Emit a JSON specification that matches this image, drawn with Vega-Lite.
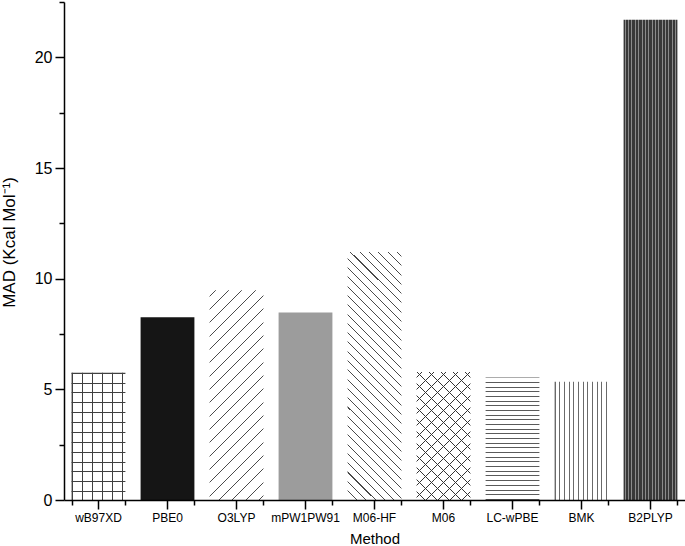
{
  "$schema": "https://vega.github.io/schema/vega-lite/v6.json",
  "width": 621,
  "height": 498,
  "autosize": "none",
  "padding": {"left": 64, "top": 2, "right": 0, "bottom": 46},
  "data": {"values": [
    {"Method": "wB97XD", "MAD": 5.75},
    {"Method": "PBE0", "MAD": 8.26},
    {"Method": "O3LYP", "MAD": 9.48},
    {"Method": "mPW1PW91", "MAD": 8.47},
    {"Method": "M06-HF", "MAD": 11.21},
    {"Method": "M06", "MAD": 5.78},
    {"Method": "LC-wPBE", "MAD": 5.54},
    {"Method": "BMK", "MAD": 5.34},
    {"Method": "B2PLYP", "MAD": 21.7}
  ]},
  "encoding": {
    "x": {"field": "Method", "type": "nominal", "sort": null, "scale": {"paddingInner": 0.22, "paddingOuter": 0.11}, "axis": null},
    "y": {"field": "MAD", "type": "quantitative", "scale": {"domain": [0, 22.5], "nice": false, "zero": true}, "axis": null}
  },
  "layer": [
    {
      "mark": {"type": "bar", "fillOpacity": 0},
      "encoding": {
        "x": {"field": "Method", "type": "nominal", "sort": null, "scale": {"paddingInner": 0.22, "paddingOuter": 0.11},
          "axis": {"title": "Method", "orient": "bottom", "labelAngle": 0, "labelFontSize": 12, "titleFontSize": 15, "tickSize": 9, "labelPadding": 3, "titlePadding": 8, "domainWidth": 1.5, "tickWidth": 1.5, "zindex": 2}},
        "y": {"field": "MAD", "type": "quantitative", "scale": {"domain": [0, 22.5], "nice": false, "zero": true},
          "axis": {"title": "MAD (Kcal Mol⁻¹)", "orient": "left", "values": [0, 5, 10, 15, 20], "labelFontSize": 16, "titleFontSize": 17, "titleY": 240, "tickSize": 9, "labelPadding": 3, "titlePadding": 16, "domainWidth": 1.5, "tickWidth": 1.5, "zindex": 2}}
      }
    },
    {
      "mark": {"type": "bar", "fillOpacity": 0},
      "encoding": {
        "x": {"field": "Method", "type": "nominal", "sort": null, "scale": {"paddingInner": 0.22, "paddingOuter": 0.11},
          "axis": {"title": null, "orient": "bottom", "tickBand": "extent", "labels": false, "domain": false, "tickSize": 5, "tickWidth": 1.5, "zindex": 2}},
        "y": {"field": "MAD", "type": "quantitative", "scale": {"domain": [0, 22.5], "nice": false, "zero": true},
          "axis": {"title": null, "orient": "left", "values": [2.5, 7.5, 12.5, 17.5, 22.5], "labels": false, "domain": false, "tickSize": 5, "tickWidth": 1.5, "zindex": 2}}
      }
    },
    {
      "transform": [{"filter": "datum.Method === 'wB97XD'"}],
      "mark": {"type": "bar", "fill": {"gradient": "linear", "x1": 0, "y1": 0, "x2": 0, "y2": 1, "stops": [
        {"offset": 0, "color": "#404040"}, {"offset": 0.0078, "color": "#404040"}, {"offset": 0.0078, "color": "#fff"},
        {"offset": 0.0775, "color": "#fff"}, {"offset": 0.0775, "color": "#404040"}, {"offset": 0.0853, "color": "#404040"}, {"offset": 0.0853, "color": "#fff"},
        {"offset": 0.1551, "color": "#fff"}, {"offset": 0.1551, "color": "#404040"}, {"offset": 0.1629, "color": "#404040"}, {"offset": 0.1629, "color": "#fff"},
        {"offset": 0.2326, "color": "#fff"}, {"offset": 0.2326, "color": "#404040"}, {"offset": 0.2404, "color": "#404040"}, {"offset": 0.2404, "color": "#fff"},
        {"offset": 0.3101, "color": "#fff"}, {"offset": 0.3101, "color": "#404040"}, {"offset": 0.3179, "color": "#404040"}, {"offset": 0.3179, "color": "#fff"},
        {"offset": 0.3876, "color": "#fff"}, {"offset": 0.3876, "color": "#404040"}, {"offset": 0.3954, "color": "#404040"}, {"offset": 0.3954, "color": "#fff"},
        {"offset": 0.4652, "color": "#fff"}, {"offset": 0.4652, "color": "#404040"}, {"offset": 0.473, "color": "#404040"}, {"offset": 0.473, "color": "#fff"},
        {"offset": 0.5427, "color": "#fff"}, {"offset": 0.5427, "color": "#404040"}, {"offset": 0.5505, "color": "#404040"}, {"offset": 0.5505, "color": "#fff"},
        {"offset": 0.6202, "color": "#fff"}, {"offset": 0.6202, "color": "#404040"}, {"offset": 0.628, "color": "#404040"}, {"offset": 0.628, "color": "#fff"},
        {"offset": 0.6977, "color": "#fff"}, {"offset": 0.6977, "color": "#404040"}, {"offset": 0.7055, "color": "#404040"}, {"offset": 0.7055, "color": "#fff"},
        {"offset": 0.7753, "color": "#fff"}, {"offset": 0.7753, "color": "#404040"}, {"offset": 0.7831, "color": "#404040"}, {"offset": 0.7831, "color": "#fff"},
        {"offset": 0.8528, "color": "#fff"}, {"offset": 0.8528, "color": "#404040"}, {"offset": 0.8606, "color": "#404040"}, {"offset": 0.8606, "color": "#fff"},
        {"offset": 0.9303, "color": "#fff"}, {"offset": 0.9303, "color": "#404040"}, {"offset": 0.9381, "color": "#404040"}, {"offset": 0.9381, "color": "#fff"},
        {"offset": 1, "color": "#fff"}
      ]}}
    },
    {
      "transform": [{"filter": "datum.Method === 'wB97XD'"}],
      "mark": {"type": "bar", "fill": {"gradient": "linear", "x1": 0, "y1": 0, "x2": 1, "y2": 0, "stops": [
        {"offset": 0, "color": "#404040"}, {"offset": 0.0186, "color": "#404040"}, {"offset": 0.0186, "color": "transparent"},
        {"offset": 0.1859, "color": "transparent"}, {"offset": 0.1859, "color": "#404040"}, {"offset": 0.2045, "color": "#404040"}, {"offset": 0.2045, "color": "transparent"},
        {"offset": 0.3717, "color": "transparent"}, {"offset": 0.3717, "color": "#404040"}, {"offset": 0.3903, "color": "#404040"}, {"offset": 0.3903, "color": "transparent"},
        {"offset": 0.5576, "color": "transparent"}, {"offset": 0.5576, "color": "#404040"}, {"offset": 0.5762, "color": "#404040"}, {"offset": 0.5762, "color": "transparent"},
        {"offset": 0.7435, "color": "transparent"}, {"offset": 0.7435, "color": "#404040"}, {"offset": 0.7621, "color": "#404040"}, {"offset": 0.7621, "color": "transparent"},
        {"offset": 0.9294, "color": "transparent"}, {"offset": 0.9294, "color": "#404040"}, {"offset": 0.948, "color": "#404040"}, {"offset": 0.948, "color": "transparent"},
        {"offset": 1, "color": "transparent"}
      ]}}
    },
    {
      "transform": [{"filter": "datum.Method === 'PBE0'"}],
      "mark": {"type": "bar", "fill": "#151515"}
    },
    {
      "transform": [{"filter": "datum.Method === 'O3LYP'"}],
      "mark": {"type": "bar", "fill": {"gradient": "linear", "x1": 0, "y1": 0, "x2": 0.303, "y2": 1.179, "stops": [
        {"offset": 0, "color": "#fff"},
        {"offset": 0.0209, "color": "#fff"}, {"offset": 0.0209, "color": "#4a4a4a"}, {"offset": 0.0247, "color": "#4a4a4a"}, {"offset": 0.0247, "color": "#fff"},
        {"offset": 0.0714, "color": "#fff"}, {"offset": 0.0714, "color": "#4a4a4a"}, {"offset": 0.0752, "color": "#4a4a4a"}, {"offset": 0.0752, "color": "#fff"},
        {"offset": 0.122, "color": "#fff"}, {"offset": 0.122, "color": "#4a4a4a"}, {"offset": 0.1258, "color": "#4a4a4a"}, {"offset": 0.1258, "color": "#fff"},
        {"offset": 0.1725, "color": "#fff"}, {"offset": 0.1725, "color": "#4a4a4a"}, {"offset": 0.1763, "color": "#4a4a4a"}, {"offset": 0.1763, "color": "#fff"},
        {"offset": 0.223, "color": "#fff"}, {"offset": 0.223, "color": "#4a4a4a"}, {"offset": 0.2268, "color": "#4a4a4a"}, {"offset": 0.2268, "color": "#fff"},
        {"offset": 0.2736, "color": "#fff"}, {"offset": 0.2736, "color": "#4a4a4a"}, {"offset": 0.2774, "color": "#4a4a4a"}, {"offset": 0.2774, "color": "#fff"},
        {"offset": 0.3241, "color": "#fff"}, {"offset": 0.3241, "color": "#4a4a4a"}, {"offset": 0.3279, "color": "#4a4a4a"}, {"offset": 0.3279, "color": "#fff"},
        {"offset": 0.3746, "color": "#fff"}, {"offset": 0.3746, "color": "#4a4a4a"}, {"offset": 0.3784, "color": "#4a4a4a"}, {"offset": 0.3784, "color": "#fff"},
        {"offset": 0.4251, "color": "#fff"}, {"offset": 0.4251, "color": "#4a4a4a"}, {"offset": 0.4289, "color": "#4a4a4a"}, {"offset": 0.4289, "color": "#fff"},
        {"offset": 0.4757, "color": "#fff"}, {"offset": 0.4757, "color": "#4a4a4a"}, {"offset": 0.4795, "color": "#4a4a4a"}, {"offset": 0.4795, "color": "#fff"},
        {"offset": 0.5262, "color": "#fff"}, {"offset": 0.5262, "color": "#4a4a4a"}, {"offset": 0.53, "color": "#4a4a4a"}, {"offset": 0.53, "color": "#fff"},
        {"offset": 0.5767, "color": "#fff"}, {"offset": 0.5767, "color": "#4a4a4a"}, {"offset": 0.5805, "color": "#4a4a4a"}, {"offset": 0.5805, "color": "#fff"},
        {"offset": 0.6273, "color": "#fff"}, {"offset": 0.6273, "color": "#4a4a4a"}, {"offset": 0.6311, "color": "#4a4a4a"}, {"offset": 0.6311, "color": "#fff"},
        {"offset": 0.6778, "color": "#fff"}, {"offset": 0.6778, "color": "#4a4a4a"}, {"offset": 0.6816, "color": "#4a4a4a"}, {"offset": 0.6816, "color": "#fff"},
        {"offset": 0.7283, "color": "#fff"}, {"offset": 0.7283, "color": "#4a4a4a"}, {"offset": 0.7321, "color": "#4a4a4a"}, {"offset": 0.7321, "color": "#fff"},
        {"offset": 0.7789, "color": "#fff"}, {"offset": 0.7789, "color": "#4a4a4a"}, {"offset": 0.7827, "color": "#4a4a4a"}, {"offset": 0.7827, "color": "#fff"},
        {"offset": 0.8294, "color": "#fff"}, {"offset": 0.8294, "color": "#4a4a4a"}, {"offset": 0.8332, "color": "#4a4a4a"}, {"offset": 0.8332, "color": "#fff"},
        {"offset": 0.8799, "color": "#fff"}, {"offset": 0.8799, "color": "#4a4a4a"}, {"offset": 0.8837, "color": "#4a4a4a"}, {"offset": 0.8837, "color": "#fff"},
        {"offset": 0.9304, "color": "#fff"}, {"offset": 0.9304, "color": "#4a4a4a"}, {"offset": 0.9342, "color": "#4a4a4a"}, {"offset": 0.9342, "color": "#fff"},
        {"offset": 0.981, "color": "#fff"}, {"offset": 0.981, "color": "#4a4a4a"}, {"offset": 0.9848, "color": "#4a4a4a"}, {"offset": 0.9848, "color": "#fff"},
        {"offset": 1, "color": "#fff"}
      ]}}
    },
    {
      "transform": [{"filter": "datum.Method === 'mPW1PW91'"}],
      "mark": {"type": "bar", "fill": "#9c9c9c"}
    },
    {
      "transform": [{"filter": "datum.Method === 'M06-HF'"}],
      "mark": {"type": "bar", "fill": {"gradient": "linear", "x1": 1, "y1": 0, "x2": 0.7482, "y2": 1.1621, "stops": [
        {"offset": 0, "color": "#fff"},
        {"offset": 0.0133, "color": "#fff"}, {"offset": 0.0133, "color": "#4a4a4a"}, {"offset": 0.0167, "color": "#4a4a4a"}, {"offset": 0.0167, "color": "#fff"},
        {"offset": 0.0441, "color": "#fff"}, {"offset": 0.0441, "color": "#4a4a4a"}, {"offset": 0.0475, "color": "#4a4a4a"}, {"offset": 0.0475, "color": "#fff"},
        {"offset": 0.0749, "color": "#fff"}, {"offset": 0.0749, "color": "#4a4a4a"}, {"offset": 0.0783, "color": "#4a4a4a"}, {"offset": 0.0783, "color": "#fff"},
        {"offset": 0.1056, "color": "#fff"}, {"offset": 0.1056, "color": "#4a4a4a"}, {"offset": 0.109, "color": "#4a4a4a"}, {"offset": 0.109, "color": "#fff"},
        {"offset": 0.1364, "color": "#fff"}, {"offset": 0.1364, "color": "#4a4a4a"}, {"offset": 0.1398, "color": "#4a4a4a"}, {"offset": 0.1398, "color": "#fff"},
        {"offset": 0.1672, "color": "#fff"}, {"offset": 0.1672, "color": "#4a4a4a"}, {"offset": 0.1706, "color": "#4a4a4a"}, {"offset": 0.1706, "color": "#fff"},
        {"offset": 0.198, "color": "#fff"}, {"offset": 0.198, "color": "#4a4a4a"}, {"offset": 0.2014, "color": "#4a4a4a"}, {"offset": 0.2014, "color": "#fff"},
        {"offset": 0.2288, "color": "#fff"}, {"offset": 0.2288, "color": "#4a4a4a"}, {"offset": 0.2322, "color": "#4a4a4a"}, {"offset": 0.2322, "color": "#fff"},
        {"offset": 0.2595, "color": "#fff"}, {"offset": 0.2595, "color": "#4a4a4a"}, {"offset": 0.2629, "color": "#4a4a4a"}, {"offset": 0.2629, "color": "#fff"},
        {"offset": 0.2903, "color": "#fff"}, {"offset": 0.2903, "color": "#4a4a4a"}, {"offset": 0.2937, "color": "#4a4a4a"}, {"offset": 0.2937, "color": "#fff"},
        {"offset": 0.3211, "color": "#fff"}, {"offset": 0.3211, "color": "#4a4a4a"}, {"offset": 0.3245, "color": "#4a4a4a"}, {"offset": 0.3245, "color": "#fff"},
        {"offset": 0.3519, "color": "#fff"}, {"offset": 0.3519, "color": "#4a4a4a"}, {"offset": 0.3553, "color": "#4a4a4a"}, {"offset": 0.3553, "color": "#fff"},
        {"offset": 0.3827, "color": "#fff"}, {"offset": 0.3827, "color": "#4a4a4a"}, {"offset": 0.3861, "color": "#4a4a4a"}, {"offset": 0.3861, "color": "#fff"},
        {"offset": 0.4134, "color": "#fff"}, {"offset": 0.4134, "color": "#4a4a4a"}, {"offset": 0.4168, "color": "#4a4a4a"}, {"offset": 0.4168, "color": "#fff"},
        {"offset": 0.4442, "color": "#fff"}, {"offset": 0.4442, "color": "#4a4a4a"}, {"offset": 0.4476, "color": "#4a4a4a"}, {"offset": 0.4476, "color": "#fff"},
        {"offset": 0.475, "color": "#fff"}, {"offset": 0.475, "color": "#4a4a4a"}, {"offset": 0.4784, "color": "#4a4a4a"}, {"offset": 0.4784, "color": "#fff"},
        {"offset": 0.5058, "color": "#fff"}, {"offset": 0.5058, "color": "#4a4a4a"}, {"offset": 0.5092, "color": "#4a4a4a"}, {"offset": 0.5092, "color": "#fff"},
        {"offset": 0.5366, "color": "#fff"}, {"offset": 0.5366, "color": "#4a4a4a"}, {"offset": 0.54, "color": "#4a4a4a"}, {"offset": 0.54, "color": "#fff"},
        {"offset": 0.5673, "color": "#fff"}, {"offset": 0.5673, "color": "#4a4a4a"}, {"offset": 0.5707, "color": "#4a4a4a"}, {"offset": 0.5707, "color": "#fff"},
        {"offset": 0.5981, "color": "#fff"}, {"offset": 0.5981, "color": "#4a4a4a"}, {"offset": 0.6015, "color": "#4a4a4a"}, {"offset": 0.6015, "color": "#fff"},
        {"offset": 0.6289, "color": "#fff"}, {"offset": 0.6289, "color": "#4a4a4a"}, {"offset": 0.6323, "color": "#4a4a4a"}, {"offset": 0.6323, "color": "#fff"},
        {"offset": 0.6597, "color": "#fff"}, {"offset": 0.6597, "color": "#4a4a4a"}, {"offset": 0.6631, "color": "#4a4a4a"}, {"offset": 0.6631, "color": "#fff"},
        {"offset": 0.6905, "color": "#fff"}, {"offset": 0.6905, "color": "#4a4a4a"}, {"offset": 0.6939, "color": "#4a4a4a"}, {"offset": 0.6939, "color": "#fff"},
        {"offset": 0.7212, "color": "#fff"}, {"offset": 0.7212, "color": "#4a4a4a"}, {"offset": 0.7246, "color": "#4a4a4a"}, {"offset": 0.7246, "color": "#fff"},
        {"offset": 0.752, "color": "#fff"}, {"offset": 0.752, "color": "#4a4a4a"}, {"offset": 0.7554, "color": "#4a4a4a"}, {"offset": 0.7554, "color": "#fff"},
        {"offset": 0.7828, "color": "#fff"}, {"offset": 0.7828, "color": "#4a4a4a"}, {"offset": 0.7862, "color": "#4a4a4a"}, {"offset": 0.7862, "color": "#fff"},
        {"offset": 0.8136, "color": "#fff"}, {"offset": 0.8136, "color": "#4a4a4a"}, {"offset": 0.817, "color": "#4a4a4a"}, {"offset": 0.817, "color": "#fff"},
        {"offset": 0.8444, "color": "#fff"}, {"offset": 0.8444, "color": "#4a4a4a"}, {"offset": 0.8478, "color": "#4a4a4a"}, {"offset": 0.8478, "color": "#fff"},
        {"offset": 0.8751, "color": "#fff"}, {"offset": 0.8751, "color": "#4a4a4a"}, {"offset": 0.8785, "color": "#4a4a4a"}, {"offset": 0.8785, "color": "#fff"},
        {"offset": 0.9059, "color": "#fff"}, {"offset": 0.9059, "color": "#4a4a4a"}, {"offset": 0.9093, "color": "#4a4a4a"}, {"offset": 0.9093, "color": "#fff"},
        {"offset": 0.9367, "color": "#fff"}, {"offset": 0.9367, "color": "#4a4a4a"}, {"offset": 0.9401, "color": "#4a4a4a"}, {"offset": 0.9401, "color": "#fff"},
        {"offset": 0.9675, "color": "#fff"}, {"offset": 0.9675, "color": "#4a4a4a"}, {"offset": 0.9709, "color": "#4a4a4a"}, {"offset": 0.9709, "color": "#fff"},
        {"offset": 1, "color": "#fff"}
      ]}}
    },
    {
      "transform": [{"filter": "datum.Method === 'M06'"}],
      "mark": {"type": "bar", "fill": {"gradient": "linear", "x1": 0, "y1": 0, "x2": 0.5086, "y2": 1.2071, "stops": [
        {"offset": 0, "color": "#fff"},
        {"offset": 0.0273, "color": "#fff"}, {"offset": 0.0273, "color": "#333"}, {"offset": 0.0328, "color": "#333"}, {"offset": 0.0328, "color": "#fff"},
        {"offset": 0.0934, "color": "#fff"}, {"offset": 0.0934, "color": "#333"}, {"offset": 0.0989, "color": "#333"}, {"offset": 0.0989, "color": "#fff"},
        {"offset": 0.1595, "color": "#fff"}, {"offset": 0.1595, "color": "#333"}, {"offset": 0.165, "color": "#333"}, {"offset": 0.165, "color": "#fff"},
        {"offset": 0.2257, "color": "#fff"}, {"offset": 0.2257, "color": "#333"}, {"offset": 0.2312, "color": "#333"}, {"offset": 0.2312, "color": "#fff"},
        {"offset": 0.2918, "color": "#fff"}, {"offset": 0.2918, "color": "#333"}, {"offset": 0.2973, "color": "#333"}, {"offset": 0.2973, "color": "#fff"},
        {"offset": 0.3579, "color": "#fff"}, {"offset": 0.3579, "color": "#333"}, {"offset": 0.3634, "color": "#333"}, {"offset": 0.3634, "color": "#fff"},
        {"offset": 0.424, "color": "#fff"}, {"offset": 0.424, "color": "#333"}, {"offset": 0.4295, "color": "#333"}, {"offset": 0.4295, "color": "#fff"},
        {"offset": 0.4901, "color": "#fff"}, {"offset": 0.4901, "color": "#333"}, {"offset": 0.4956, "color": "#333"}, {"offset": 0.4956, "color": "#fff"},
        {"offset": 0.5563, "color": "#fff"}, {"offset": 0.5563, "color": "#333"}, {"offset": 0.5618, "color": "#333"}, {"offset": 0.5618, "color": "#fff"},
        {"offset": 0.6224, "color": "#fff"}, {"offset": 0.6224, "color": "#333"}, {"offset": 0.6279, "color": "#333"}, {"offset": 0.6279, "color": "#fff"},
        {"offset": 0.6885, "color": "#fff"}, {"offset": 0.6885, "color": "#333"}, {"offset": 0.694, "color": "#333"}, {"offset": 0.694, "color": "#fff"},
        {"offset": 0.7546, "color": "#fff"}, {"offset": 0.7546, "color": "#333"}, {"offset": 0.7601, "color": "#333"}, {"offset": 0.7601, "color": "#fff"},
        {"offset": 0.8207, "color": "#fff"}, {"offset": 0.8207, "color": "#333"}, {"offset": 0.8262, "color": "#333"}, {"offset": 0.8262, "color": "#fff"},
        {"offset": 0.8869, "color": "#fff"}, {"offset": 0.8869, "color": "#333"}, {"offset": 0.8924, "color": "#333"}, {"offset": 0.8924, "color": "#fff"},
        {"offset": 0.953, "color": "#fff"}, {"offset": 0.953, "color": "#333"}, {"offset": 0.9585, "color": "#333"}, {"offset": 0.9585, "color": "#fff"},
        {"offset": 1, "color": "#fff"}
      ]}}
    },
    {
      "transform": [{"filter": "datum.Method === 'M06'"}],
      "mark": {"type": "bar", "fill": {"gradient": "linear", "x1": 1, "y1": 0, "x2": 0.4914, "y2": 1.2071, "stops": [
        {"offset": 0, "color": "transparent"},
        {"offset": 0.0273, "color": "transparent"}, {"offset": 0.0273, "color": "#333"}, {"offset": 0.0328, "color": "#333"}, {"offset": 0.0328, "color": "transparent"},
        {"offset": 0.0934, "color": "transparent"}, {"offset": 0.0934, "color": "#333"}, {"offset": 0.0989, "color": "#333"}, {"offset": 0.0989, "color": "transparent"},
        {"offset": 0.1595, "color": "transparent"}, {"offset": 0.1595, "color": "#333"}, {"offset": 0.165, "color": "#333"}, {"offset": 0.165, "color": "transparent"},
        {"offset": 0.2257, "color": "transparent"}, {"offset": 0.2257, "color": "#333"}, {"offset": 0.2312, "color": "#333"}, {"offset": 0.2312, "color": "transparent"},
        {"offset": 0.2918, "color": "transparent"}, {"offset": 0.2918, "color": "#333"}, {"offset": 0.2973, "color": "#333"}, {"offset": 0.2973, "color": "transparent"},
        {"offset": 0.3579, "color": "transparent"}, {"offset": 0.3579, "color": "#333"}, {"offset": 0.3634, "color": "#333"}, {"offset": 0.3634, "color": "transparent"},
        {"offset": 0.424, "color": "transparent"}, {"offset": 0.424, "color": "#333"}, {"offset": 0.4295, "color": "#333"}, {"offset": 0.4295, "color": "transparent"},
        {"offset": 0.4901, "color": "transparent"}, {"offset": 0.4901, "color": "#333"}, {"offset": 0.4956, "color": "#333"}, {"offset": 0.4956, "color": "transparent"},
        {"offset": 0.5563, "color": "transparent"}, {"offset": 0.5563, "color": "#333"}, {"offset": 0.5618, "color": "#333"}, {"offset": 0.5618, "color": "transparent"},
        {"offset": 0.6224, "color": "transparent"}, {"offset": 0.6224, "color": "#333"}, {"offset": 0.6279, "color": "#333"}, {"offset": 0.6279, "color": "transparent"},
        {"offset": 0.6885, "color": "transparent"}, {"offset": 0.6885, "color": "#333"}, {"offset": 0.694, "color": "#333"}, {"offset": 0.694, "color": "transparent"},
        {"offset": 0.7546, "color": "transparent"}, {"offset": 0.7546, "color": "#333"}, {"offset": 0.7601, "color": "#333"}, {"offset": 0.7601, "color": "transparent"},
        {"offset": 0.8207, "color": "transparent"}, {"offset": 0.8207, "color": "#333"}, {"offset": 0.8262, "color": "#333"}, {"offset": 0.8262, "color": "transparent"},
        {"offset": 0.8869, "color": "transparent"}, {"offset": 0.8869, "color": "#333"}, {"offset": 0.8924, "color": "#333"}, {"offset": 0.8924, "color": "transparent"},
        {"offset": 0.953, "color": "transparent"}, {"offset": 0.953, "color": "#333"}, {"offset": 0.9585, "color": "#333"}, {"offset": 0.9585, "color": "transparent"},
        {"offset": 1, "color": "transparent"}
      ]}}
    },
    {
      "transform": [{"filter": "datum.Method === 'LC-wPBE'"}],
      "mark": {"type": "bar", "fill": {"gradient": "linear", "x1": 0, "y1": 0, "x2": 0, "y2": 1, "stops": [
        {"offset": 0, "color": "#5a5a5a"}, {"offset": 0.0082, "color": "#5a5a5a"}, {"offset": 0.0082, "color": "#fff"},
        {"offset": 0.0381, "color": "#fff"}, {"offset": 0.0381, "color": "#5a5a5a"}, {"offset": 0.0463, "color": "#5a5a5a"}, {"offset": 0.0463, "color": "#fff"},
        {"offset": 0.0762, "color": "#fff"}, {"offset": 0.0762, "color": "#5a5a5a"}, {"offset": 0.0844, "color": "#5a5a5a"}, {"offset": 0.0844, "color": "#fff"},
        {"offset": 0.1143, "color": "#fff"}, {"offset": 0.1143, "color": "#5a5a5a"}, {"offset": 0.1225, "color": "#5a5a5a"}, {"offset": 0.1225, "color": "#fff"},
        {"offset": 0.1524, "color": "#fff"}, {"offset": 0.1524, "color": "#5a5a5a"}, {"offset": 0.1606, "color": "#5a5a5a"}, {"offset": 0.1606, "color": "#fff"},
        {"offset": 0.1905, "color": "#fff"}, {"offset": 0.1905, "color": "#5a5a5a"}, {"offset": 0.1987, "color": "#5a5a5a"}, {"offset": 0.1987, "color": "#fff"},
        {"offset": 0.2286, "color": "#fff"}, {"offset": 0.2286, "color": "#5a5a5a"}, {"offset": 0.2368, "color": "#5a5a5a"}, {"offset": 0.2368, "color": "#fff"},
        {"offset": 0.2667, "color": "#fff"}, {"offset": 0.2667, "color": "#5a5a5a"}, {"offset": 0.2749, "color": "#5a5a5a"}, {"offset": 0.2749, "color": "#fff"},
        {"offset": 0.3048, "color": "#fff"}, {"offset": 0.3048, "color": "#5a5a5a"}, {"offset": 0.313, "color": "#5a5a5a"}, {"offset": 0.313, "color": "#fff"},
        {"offset": 0.3429, "color": "#fff"}, {"offset": 0.3429, "color": "#5a5a5a"}, {"offset": 0.3511, "color": "#5a5a5a"}, {"offset": 0.3511, "color": "#fff"},
        {"offset": 0.381, "color": "#fff"}, {"offset": 0.381, "color": "#5a5a5a"}, {"offset": 0.3892, "color": "#5a5a5a"}, {"offset": 0.3892, "color": "#fff"},
        {"offset": 0.4191, "color": "#fff"}, {"offset": 0.4191, "color": "#5a5a5a"}, {"offset": 0.4273, "color": "#5a5a5a"}, {"offset": 0.4273, "color": "#fff"},
        {"offset": 0.4572, "color": "#fff"}, {"offset": 0.4572, "color": "#5a5a5a"}, {"offset": 0.4654, "color": "#5a5a5a"}, {"offset": 0.4654, "color": "#fff"},
        {"offset": 0.4953, "color": "#fff"}, {"offset": 0.4953, "color": "#5a5a5a"}, {"offset": 0.5035, "color": "#5a5a5a"}, {"offset": 0.5035, "color": "#fff"},
        {"offset": 0.5334, "color": "#fff"}, {"offset": 0.5334, "color": "#5a5a5a"}, {"offset": 0.5416, "color": "#5a5a5a"}, {"offset": 0.5416, "color": "#fff"},
        {"offset": 0.5715, "color": "#fff"}, {"offset": 0.5715, "color": "#5a5a5a"}, {"offset": 0.5797, "color": "#5a5a5a"}, {"offset": 0.5797, "color": "#fff"},
        {"offset": 0.6096, "color": "#fff"}, {"offset": 0.6096, "color": "#5a5a5a"}, {"offset": 0.6178, "color": "#5a5a5a"}, {"offset": 0.6178, "color": "#fff"},
        {"offset": 0.6477, "color": "#fff"}, {"offset": 0.6477, "color": "#5a5a5a"}, {"offset": 0.6559, "color": "#5a5a5a"}, {"offset": 0.6559, "color": "#fff"},
        {"offset": 0.6858, "color": "#fff"}, {"offset": 0.6858, "color": "#5a5a5a"}, {"offset": 0.694, "color": "#5a5a5a"}, {"offset": 0.694, "color": "#fff"},
        {"offset": 0.7239, "color": "#fff"}, {"offset": 0.7239, "color": "#5a5a5a"}, {"offset": 0.7321, "color": "#5a5a5a"}, {"offset": 0.7321, "color": "#fff"},
        {"offset": 0.762, "color": "#fff"}, {"offset": 0.762, "color": "#5a5a5a"}, {"offset": 0.7702, "color": "#5a5a5a"}, {"offset": 0.7702, "color": "#fff"},
        {"offset": 0.8001, "color": "#fff"}, {"offset": 0.8001, "color": "#5a5a5a"}, {"offset": 0.8083, "color": "#5a5a5a"}, {"offset": 0.8083, "color": "#fff"},
        {"offset": 0.8382, "color": "#fff"}, {"offset": 0.8382, "color": "#5a5a5a"}, {"offset": 0.8464, "color": "#5a5a5a"}, {"offset": 0.8464, "color": "#fff"},
        {"offset": 0.8763, "color": "#fff"}, {"offset": 0.8763, "color": "#5a5a5a"}, {"offset": 0.8845, "color": "#5a5a5a"}, {"offset": 0.8845, "color": "#fff"},
        {"offset": 0.9144, "color": "#fff"}, {"offset": 0.9144, "color": "#5a5a5a"}, {"offset": 0.9226, "color": "#5a5a5a"}, {"offset": 0.9226, "color": "#fff"},
        {"offset": 0.9525, "color": "#fff"}, {"offset": 0.9525, "color": "#5a5a5a"}, {"offset": 0.9607, "color": "#5a5a5a"}, {"offset": 0.9607, "color": "#fff"},
        {"offset": 0.9906, "color": "#fff"}, {"offset": 0.9906, "color": "#5a5a5a"}, {"offset": 0.9988, "color": "#5a5a5a"}, {"offset": 0.9988, "color": "#fff"},
        {"offset": 1, "color": "#fff"}
      ]}}
    },
    {
      "transform": [{"filter": "datum.Method === 'BMK'"}],
      "mark": {"type": "bar", "fill": {"gradient": "linear", "x1": 0, "y1": 0, "x2": 1, "y2": 0, "stops": [
        {"offset": 0, "color": "#6a6a6a"}, {"offset": 0.0186, "color": "#6a6a6a"}, {"offset": 0.0186, "color": "#fff"},
        {"offset": 0.0868, "color": "#fff"}, {"offset": 0.0868, "color": "#6a6a6a"}, {"offset": 0.1054, "color": "#6a6a6a"}, {"offset": 0.1054, "color": "#fff"},
        {"offset": 0.1736, "color": "#fff"}, {"offset": 0.1736, "color": "#6a6a6a"}, {"offset": 0.1922, "color": "#6a6a6a"}, {"offset": 0.1922, "color": "#fff"},
        {"offset": 0.2604, "color": "#fff"}, {"offset": 0.2604, "color": "#6a6a6a"}, {"offset": 0.279, "color": "#6a6a6a"}, {"offset": 0.279, "color": "#fff"},
        {"offset": 0.3472, "color": "#fff"}, {"offset": 0.3472, "color": "#6a6a6a"}, {"offset": 0.3658, "color": "#6a6a6a"}, {"offset": 0.3658, "color": "#fff"},
        {"offset": 0.434, "color": "#fff"}, {"offset": 0.434, "color": "#6a6a6a"}, {"offset": 0.4526, "color": "#6a6a6a"}, {"offset": 0.4526, "color": "#fff"},
        {"offset": 0.5208, "color": "#fff"}, {"offset": 0.5208, "color": "#6a6a6a"}, {"offset": 0.5394, "color": "#6a6a6a"}, {"offset": 0.5394, "color": "#fff"},
        {"offset": 0.6076, "color": "#fff"}, {"offset": 0.6076, "color": "#6a6a6a"}, {"offset": 0.6262, "color": "#6a6a6a"}, {"offset": 0.6262, "color": "#fff"},
        {"offset": 0.6944, "color": "#fff"}, {"offset": 0.6944, "color": "#6a6a6a"}, {"offset": 0.713, "color": "#6a6a6a"}, {"offset": 0.713, "color": "#fff"},
        {"offset": 0.7812, "color": "#fff"}, {"offset": 0.7812, "color": "#6a6a6a"}, {"offset": 0.7998, "color": "#6a6a6a"}, {"offset": 0.7998, "color": "#fff"},
        {"offset": 0.868, "color": "#fff"}, {"offset": 0.868, "color": "#6a6a6a"}, {"offset": 0.8866, "color": "#6a6a6a"}, {"offset": 0.8866, "color": "#fff"},
        {"offset": 0.9548, "color": "#fff"}, {"offset": 0.9548, "color": "#6a6a6a"}, {"offset": 0.9734, "color": "#6a6a6a"}, {"offset": 0.9734, "color": "#fff"},
        {"offset": 1, "color": "#fff"}
      ]}}
    },
    {
      "transform": [{"filter": "datum.Method === 'B2PLYP'"}],
      "mark": {"type": "bar", "fill": {"gradient": "linear", "x1": 0, "y1": 0, "x2": 1, "y2": 0, "stops": [
        {"offset": 0, "color": "#383838"},
        {"offset": 0.0217, "color": "#383838"}, {"offset": 0.0217, "color": "#8a8a8a"}, {"offset": 0.0403, "color": "#8a8a8a"}, {"offset": 0.0403, "color": "#383838"},
        {"offset": 0.0842, "color": "#383838"}, {"offset": 0.0842, "color": "#8a8a8a"}, {"offset": 0.1028, "color": "#8a8a8a"}, {"offset": 0.1028, "color": "#383838"},
        {"offset": 0.1467, "color": "#383838"}, {"offset": 0.1467, "color": "#8a8a8a"}, {"offset": 0.1653, "color": "#8a8a8a"}, {"offset": 0.1653, "color": "#383838"},
        {"offset": 0.2092, "color": "#383838"}, {"offset": 0.2092, "color": "#8a8a8a"}, {"offset": 0.2278, "color": "#8a8a8a"}, {"offset": 0.2278, "color": "#383838"},
        {"offset": 0.2717, "color": "#383838"}, {"offset": 0.2717, "color": "#8a8a8a"}, {"offset": 0.2903, "color": "#8a8a8a"}, {"offset": 0.2903, "color": "#383838"},
        {"offset": 0.3342, "color": "#383838"}, {"offset": 0.3342, "color": "#8a8a8a"}, {"offset": 0.3528, "color": "#8a8a8a"}, {"offset": 0.3528, "color": "#383838"},
        {"offset": 0.3967, "color": "#383838"}, {"offset": 0.3967, "color": "#8a8a8a"}, {"offset": 0.4153, "color": "#8a8a8a"}, {"offset": 0.4153, "color": "#383838"},
        {"offset": 0.4592, "color": "#383838"}, {"offset": 0.4592, "color": "#8a8a8a"}, {"offset": 0.4778, "color": "#8a8a8a"}, {"offset": 0.4778, "color": "#383838"},
        {"offset": 0.5217, "color": "#383838"}, {"offset": 0.5217, "color": "#8a8a8a"}, {"offset": 0.5403, "color": "#8a8a8a"}, {"offset": 0.5403, "color": "#383838"},
        {"offset": 0.5842, "color": "#383838"}, {"offset": 0.5842, "color": "#8a8a8a"}, {"offset": 0.6028, "color": "#8a8a8a"}, {"offset": 0.6028, "color": "#383838"},
        {"offset": 0.6467, "color": "#383838"}, {"offset": 0.6467, "color": "#8a8a8a"}, {"offset": 0.6653, "color": "#8a8a8a"}, {"offset": 0.6653, "color": "#383838"},
        {"offset": 0.7092, "color": "#383838"}, {"offset": 0.7092, "color": "#8a8a8a"}, {"offset": 0.7278, "color": "#8a8a8a"}, {"offset": 0.7278, "color": "#383838"},
        {"offset": 0.7717, "color": "#383838"}, {"offset": 0.7717, "color": "#8a8a8a"}, {"offset": 0.7903, "color": "#8a8a8a"}, {"offset": 0.7903, "color": "#383838"},
        {"offset": 0.8342, "color": "#383838"}, {"offset": 0.8342, "color": "#8a8a8a"}, {"offset": 0.8528, "color": "#8a8a8a"}, {"offset": 0.8528, "color": "#383838"},
        {"offset": 0.8967, "color": "#383838"}, {"offset": 0.8967, "color": "#8a8a8a"}, {"offset": 0.9153, "color": "#8a8a8a"}, {"offset": 0.9153, "color": "#383838"},
        {"offset": 0.9592, "color": "#383838"}, {"offset": 0.9592, "color": "#8a8a8a"}, {"offset": 0.9778, "color": "#8a8a8a"}, {"offset": 0.9778, "color": "#383838"},
        {"offset": 1, "color": "#383838"}
      ]}}
    }
  ],
  "resolve": {"axis": {"x": "independent", "y": "independent"}},
  "config": {
    "view": {"stroke": null},
    "axis": {"labelFont": "Liberation Sans", "titleFont": "Liberation Sans", "labelColor": "#000", "titleColor": "#000", "domainColor": "#000", "tickColor": "#000", "grid": false, "titleFontWeight": "normal"}
  }
}
